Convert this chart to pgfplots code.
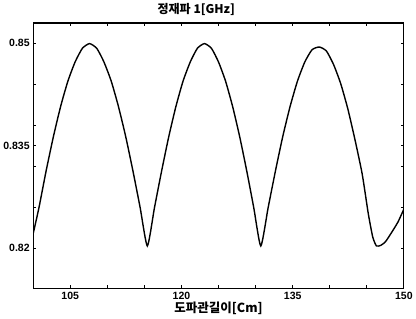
\documentclass[border=0pt]{standalone}
\usepackage{pgfplots}
\pgfplotsset{compat=1.18}
\usepackage{fontspec}
\setmainfont{Liberation Sans}
\newfontfamily\kr{Noto Sans CJK KR}
\begin{document}
\begin{tikzpicture}
\begin{axis}[
  scale only axis,
  width=369bp, height=264bp,
  xmin=100, xmax=150,
  ymin=0.8141, ymax=0.8529,
  xtick={105,110,115,120,125,130,135,140,145,150},
  xticklabels={105,,,120,,,135,,,150},
  ytick={0.82,0.826,0.832,0.835,0.838,0.844,0.85},
  yticklabels={0.82,,,0.835,,,0.85},
  tick align=inside,
  major tick length=3bp,
  tick style={black, line width=0.8pt},
  axis line style={line width=1.2pt},
  /pgf/number format/assume math mode=true,
  ticklabel style={font=\fontsize{10.5}{11}\selectfont\bfseries},
  xlabel={\kr\bfseries 도파관길이[Cm]},
  xlabel style={font=\fontsize{12.5}{13}\selectfont, yshift=4bp},
  title={\kr\bfseries 정재파 1[GHz]},
  title style={font=\fontsize{12}{13}\selectfont, at={(rel axis cs:0.44,1)}, anchor=south, yshift=-2bp},
  clip=true,
]
\addplot[black, line width=1.4pt, smooth, tension=0.35] coordinates {
(100.0,0.8221) (100.78,0.8259) (101.75,0.8313) (102.73,0.8363) (103.7,0.8407)
(104.68,0.8444) (105.65,0.8472) (106.63,0.8492) (107.6,0.8499)
(108.58,0.8492) (109.55,0.8472) (110.53,0.8444) (111.5,0.8407) (112.48,0.8363)
(113.45,0.8313) (114.43,0.8259) (115.4,0.8203)
(116.36,0.8259) (117.33,0.8313) (118.29,0.8363) (119.25,0.8407) (120.21,0.8444)
(121.18,0.8472) (122.14,0.8492) (123.1,0.8499)
(124.05,0.8492) (125.0,0.8472) (125.95,0.8444) (126.9,0.8407) (127.85,0.8363)
(128.8,0.8313) (129.75,0.8259) (130.7,0.8203)
(131.69,0.8259) (132.68,0.8313) (133.66,0.8363) (134.65,0.8407) (135.64,0.8444)
(136.63,0.8472) (137.61,0.8490) (138.6,0.8494)
(139.56,0.8488) (140.53,0.8468) (141.49,0.8440) (142.45,0.8403) (143.41,0.8358)
(144.38,0.8308) (145.2,0.8250) (145.8,0.8216) (146.3,0.8203) (146.9,0.8204)
(147.5,0.8209) (148.3,0.8222) (149.2,0.8238) (150.0,0.8257)
};
\end{axis}
\end{tikzpicture}
\end{document}
